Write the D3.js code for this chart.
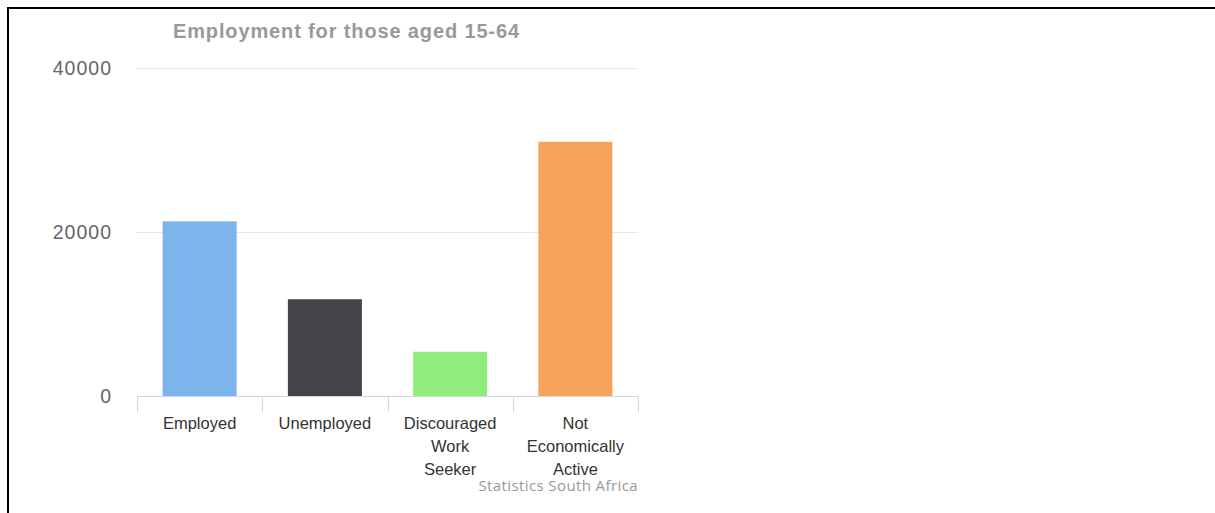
<!DOCTYPE html>
<html lang="en">
<head>
  <meta charset="UTF-8">
  <title>Employment for those aged 15-64</title>
  <script src="https://d3js.org/d3.v7.min.js"></script>
  <style>
    body { margin: 0; background: #fff; font-family: "Liberation Sans", Arial, sans-serif; }
    svg { display: block; }
    .title { font-size: 20px; font-weight: bold; fill: #999; }
    .y-axis text { font-size: 19.5px; fill: #666; letter-spacing: 1px; }
    .x-axis text { font-size: 16.5px; fill: #333; }
    .credits { font-size: 15px; fill: #999; font-family: "Open Sans", sans-serif; letter-spacing: 0.4px; }
  </style>
</head>
<body>
  <svg width="1215" height="513"></svg>
  <script>
    // chart data
    const categories = ["Employed", "Unemployed", "Discouraged Work Seeker", "Not Economically Active"];
    const labelLines = [["Employed"], ["Unemployed"], ["Discouraged", "Work", "Seeker"], ["Not", "Economically", "Active"]];
    const values = [21300, 11800, 5400, 31000];
    const colors = ["#7cb5ec", "#434348", "#90ed7d", "#f7a35c"];
    const yTicks = [0, 20000, 40000];

    const svg = d3.select("svg");

    // frame around the page
    svg.append("line").attr("x1", 7).attr("x2", 1215).attr("y1", 8).attr("y2", 8)
      .attr("stroke", "#000").attr("stroke-width", 2);
    svg.append("line").attr("x1", 8).attr("x2", 8).attr("y1", 7).attr("y2", 513)
      .attr("stroke", "#000").attr("stroke-width", 2);

    const plot = { left: 137, right: 638, top: 68, bottom: 396 };

    const x = d3.scaleBand().domain(categories).range([plot.left, plot.right]).paddingInner(0).paddingOuter(0);
    const y = d3.scaleLinear().domain([0, 40000]).range([plot.bottom, plot.top]);

    svg.append("text")
      .attr("class", "title")
      .attr("x", 346).attr("y", 38)
      .attr("text-anchor", "middle")
      .attr("textLength", 346)
      .attr("lengthAdjust", "spacing")
      .text("Employment for those aged 15-64");

    // gridlines
    svg.append("g").selectAll("line")
      .data(yTicks.filter(d => d > 0))
      .enter().append("line")
      .attr("x1", plot.left).attr("x2", plot.right)
      .attr("y1", d => Math.round(y(d)) + 0.5).attr("y2", d => Math.round(y(d)) + 0.5)
      .attr("stroke", "#e6e6e6");

    // y axis labels
    const yAxis = svg.append("g")
      .attr("class", "y-axis")
      .attr("transform", `translate(${plot.left - 25}, 0)`)
      .call(d3.axisLeft(y).tickValues(yTicks).tickSize(0).tickPadding(0).tickFormat(d3.format("d")));
    yAxis.select(".domain").remove();
    yAxis.selectAll("text").attr("dy", "0.35em");

    // bars
    const barW = 74;
    svg.append("g").selectAll("rect")
      .data(values)
      .enter().append("rect")
      .attr("x", (d, i) => x(categories[i]) + (x.bandwidth() - barW) / 2)
      .attr("y", d => y(d))
      .attr("width", barW)
      .attr("height", d => y(0) - y(d))
      .attr("fill", (d, i) => colors[i]);

    // x axis
    const xAxis = svg.append("g")
      .attr("class", "x-axis")
      .attr("transform", `translate(0, ${plot.bottom + 0.5})`);
    xAxis.append("line")
      .attr("x1", plot.left).attr("x2", plot.right)
      .attr("stroke", "#ccd6eb");
    const edges = categories.map(c => x(c)).concat([plot.right]);
    xAxis.selectAll(".tick")
      .data(edges)
      .enter().append("line")
      .attr("class", "tick")
      .attr("x1", d => Math.round(d) + 0.5).attr("x2", d => Math.round(d) + 0.5)
      .attr("y1", 0).attr("y2", 15)
      .attr("stroke", "#ccd6eb");

    categories.forEach((c, i) => {
      const t = xAxis.append("text")
        .attr("text-anchor", "middle")
        .attr("x", x(c) + x.bandwidth() / 2)
        .attr("y", 32);
      labelLines[i].forEach((ln, j) => {
        t.append("tspan")
          .attr("x", x(c) + x.bandwidth() / 2)
          .attr("dy", j === 0 ? 0 : 23)
          .text(ln);
      });
    });

    svg.append("text")
      .attr("class", "credits")
      .attr("x", plot.right)
      .attr("y", 491)
      .attr("text-anchor", "end")
      .text("Statistics South Africa");
  </script>
</body>
</html>
